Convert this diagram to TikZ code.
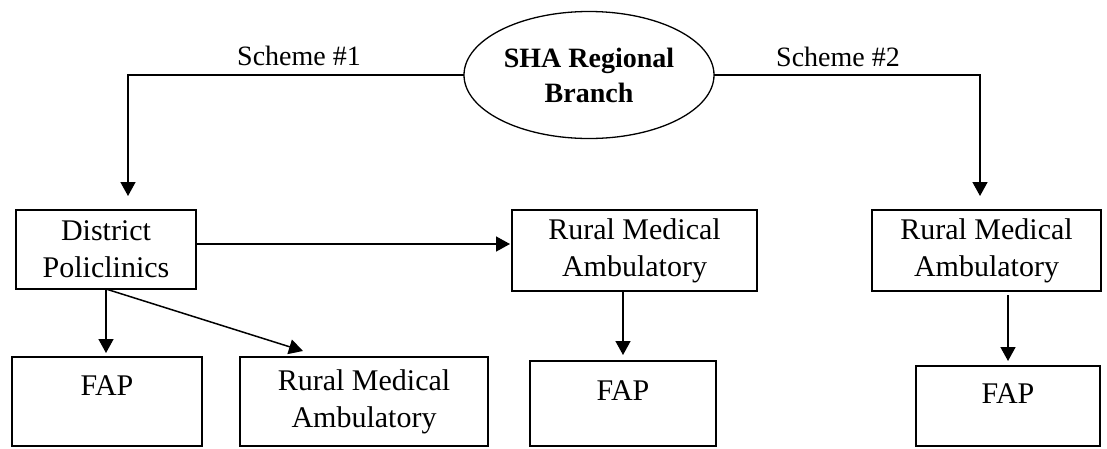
\documentclass[tikz,border=0pt]{standalone}
\usepackage{fontspec}
\setmainfont{Liberation Serif}
\usetikzlibrary{arrows.meta,shapes.geometric}
\begin{document}
\begin{tikzpicture}[x=1pt,y=-1pt,
  every node/.style={font=\fontsize{30pt}{37pt}\selectfont},
  box/.style={draw,line width=1.6pt,inner sep=0pt,outer sep=0pt,align=center},
  conn/.style={line width=1.5pt},
  arr/.style={conn,-{Triangle[length=14pt,width=15pt]}},
  lbl/.style={inner sep=0pt,font=\fontsize{28pt}{34pt}\selectfont}
]
\useasboundingbox (0,0) rectangle (1107,448);
% nodes
\node[draw,ellipse,line width=1.3pt,inner sep=0pt,outer sep=0pt,minimum width=250pt,minimum height=127pt,align=center,font=\bfseries\fontsize{28pt}{35pt}\selectfont] (sha) at (589,75) {\raisebox{-7pt}{SHA Regional}\\\raisebox{-7pt}{Branch}};
\node[box,minimum width=180pt,minimum height=79pt] (d) at (106,249.5) {District\\Policlinics};
\node[box,minimum width=245pt,minimum height=81pt] (rm) at (634.5,250.5) {Rural Medical\\Ambulatory};
\node[box,minimum width=229pt,minimum height=81pt] (r3) at (986.5,250.5) {Rural Medical\\Ambulatory};
\node[box,minimum width=190pt,minimum height=89pt,text height=20pt,text depth=33pt] (f1) at (107,401.5) {FAP};
\node[box,minimum width=248pt,minimum height=89pt] (r2) at (364,401.5) {Rural Medical\\Ambulatory};
\node[box,minimum width=186pt,minimum height=85pt,text height=20pt,text depth=27pt] (fm) at (623,403.5) {FAP};
\node[box,minimum width=184pt,minimum height=80pt,text height=20pt,text depth=26pt] (fr) at (1008,406) {FAP};
% labels
\node[lbl] (s1) at (299,56) {Scheme \#1};
\node[lbl] (s2) at (838,57) {Scheme \#2};
% connectors
\coordinate (c1) at (128,75);
\coordinate (c2) at (980,75);
\draw[arr,shorten >=14pt] (sha.west) -- (c1) -- (c1 |- d.north);
\draw[arr,shorten >=14pt] (sha.east) -- (c2) -- (c2 |- r3.north);
\draw[arr,shorten >=2pt] ([yshift=5.5pt]d.east) -- ([yshift=5.5pt]d.east -| rm.west);
\draw[arr,shorten >=4pt] (d.south) -- (d.south |- f1.north);
\draw[arr] (d.south) -- ([xshift=-61pt,yshift=6pt]r2.north);
\draw[arr,shorten >=6pt] (fm.north |- rm.south) -- (fm.north);
\draw[arr,shorten <=4pt,shorten >=5pt] (fr.north |- r3.south) -- (fr.north);
\end{tikzpicture}
\end{document}
